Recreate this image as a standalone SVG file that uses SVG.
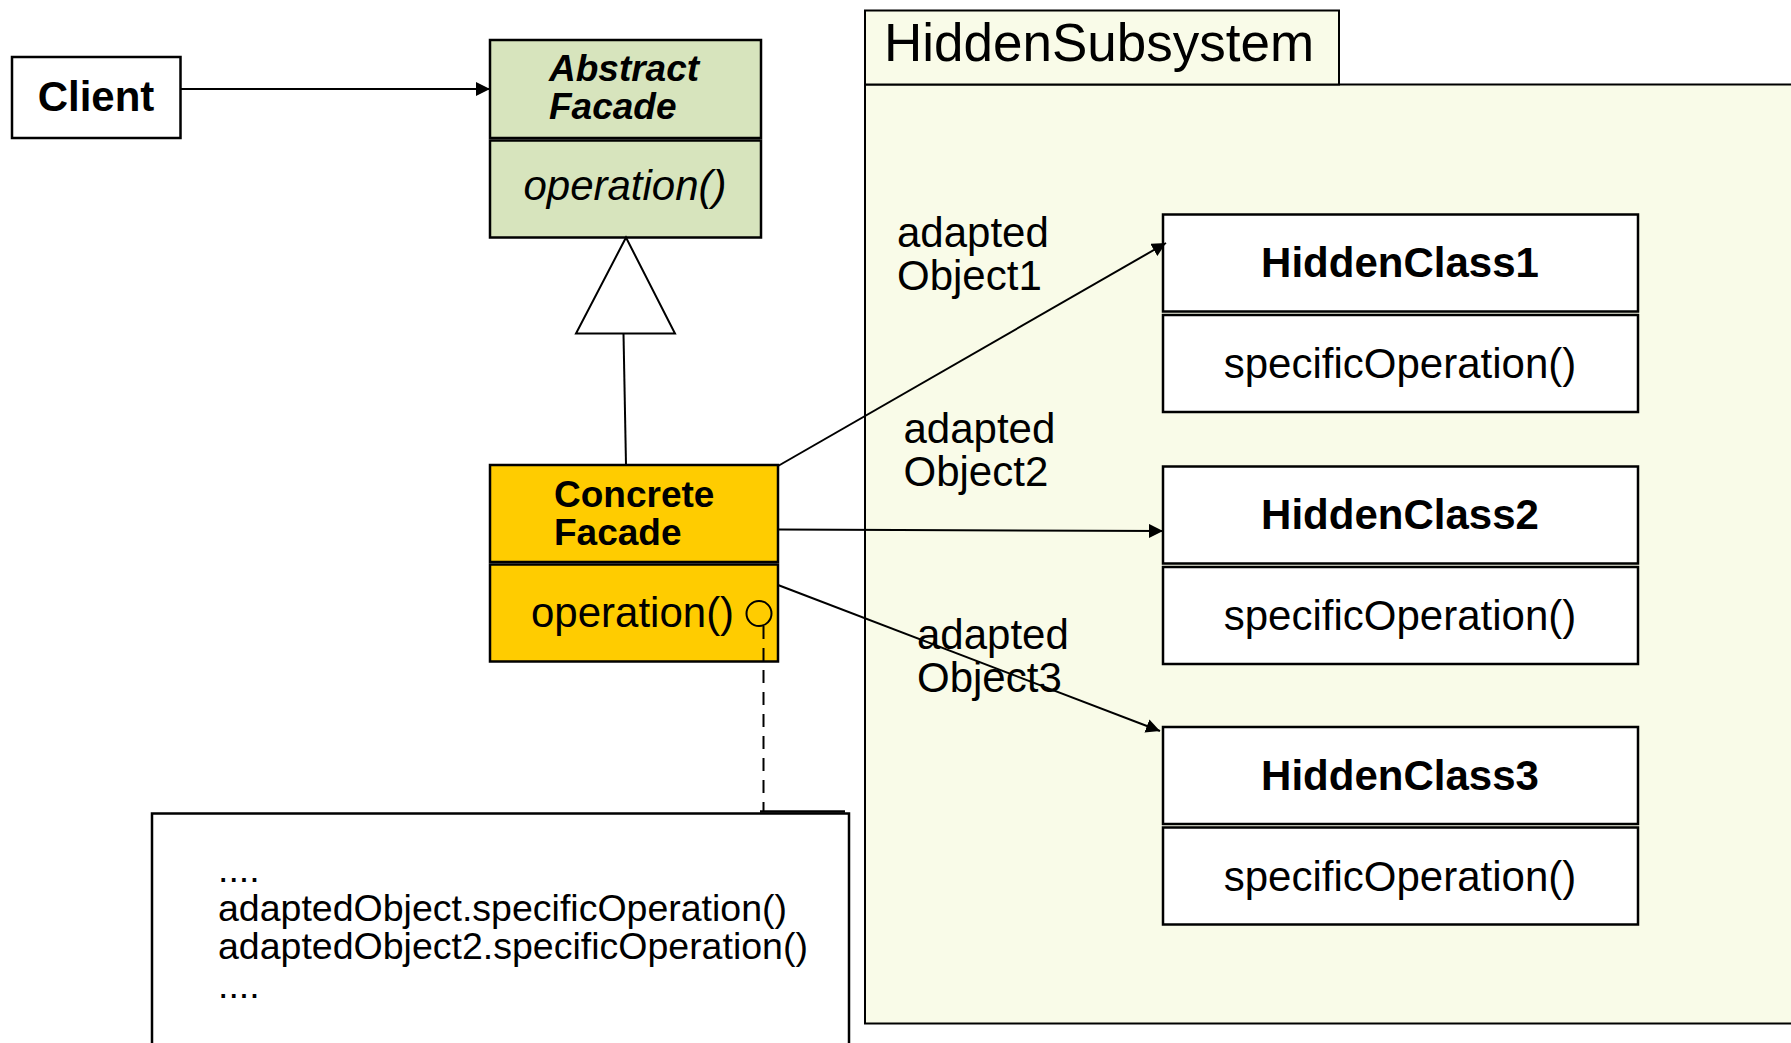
<svg xmlns="http://www.w3.org/2000/svg" width="1791" height="1043" viewBox="0 0 1791 1043">
<defs>
<style>
.box{stroke:#000;stroke-width:2.5}
.white{fill:#fff}
.green{fill:#d7e4bd}
.gold{fill:#ffcc00}
.pkg{fill:#f9fbe8;stroke:#000;stroke-width:2}
.t{font-family:"Liberation Sans",Arial,sans-serif;fill:#000}
.b{font-weight:bold}
.i{font-style:italic}
.c{text-anchor:middle}
.conn{stroke:#000;stroke-width:2;fill:none}
</style>
<marker id="arr" viewBox="0 0 14 14" refX="14" refY="7" markerWidth="14" markerHeight="14" markerUnits="userSpaceOnUse" orient="auto">
<path d="M0,0 L14,7 L0,14 z" fill="#000"/>
</marker>
</defs>
<rect width="1791" height="1043" fill="#fff"/>

<g id="HiddenSubsystem">
<rect class="pkg" x="865" y="84.5" width="940" height="939"/>
<rect class="pkg" x="865" y="10.5" width="474" height="74"/>
<text class="t" x="884" y="61" font-size="53">HiddenSubsystem</text>
</g>

<g id="Client">
<rect class="box white" x="12" y="57" width="168.5" height="81"/>
<text class="t b c" x="96" y="111" font-size="42">Client</text>
</g>

<g id="AbstractFacade">
<rect class="box green" x="490" y="40" width="271" height="98"/>
<rect class="box green" x="490" y="140.5" width="271" height="97"/>
<text class="t b i" x="549" y="81" font-size="37">Abstract</text>
<text class="t b i" x="549" y="119" font-size="37">Facade</text>
<text class="t i c" x="625" y="200" font-size="42">operation()</text>
</g>

<g id="ConcreteFacade">
<rect class="box gold" x="490" y="465" width="288" height="97"/>
<rect class="box gold" x="490" y="564.5" width="288" height="97"/>
<text class="t b" x="554" y="507" font-size="37">Concrete</text>
<text class="t b" x="554" y="545" font-size="37">Facade</text>
<text class="t" x="531" y="627" font-size="42">operation()</text>
<circle cx="759" cy="613.5" r="12.5" fill="none" stroke="#000" stroke-width="2"/>
</g>

<g id="HiddenClass1">
<rect class="box white" x="1163" y="214.5" width="475" height="97"/>
<rect class="box white" x="1163" y="315" width="475" height="97"/>
<text class="t b c" x="1400" y="277" font-size="42">HiddenClass1</text>
<text class="t c" x="1400" y="378" font-size="42">specificOperation()</text>
</g>

<g id="HiddenClass2">
<rect class="box white" x="1163" y="466.5" width="475" height="97"/>
<rect class="box white" x="1163" y="567" width="475" height="97"/>
<text class="t b c" x="1400" y="529" font-size="42">HiddenClass2</text>
<text class="t c" x="1400" y="630" font-size="42">specificOperation()</text>
</g>

<g id="HiddenClass3">
<rect class="box white" x="1163" y="727" width="475" height="97"/>
<rect class="box white" x="1163" y="827.5" width="475" height="97"/>
<text class="t b c" x="1400" y="789.5" font-size="42">HiddenClass3</text>
<text class="t c" x="1400" y="890.5" font-size="42">specificOperation()</text>
</g>

<g id="Note">
<rect class="box white" x="152" y="813.5" width="697" height="260"/>
<line x1="760" y1="811.5" x2="845" y2="811.5" stroke="#000" stroke-width="2.5"/>
<text class="t" font-size="37.5"><tspan x="218" y="882">....</tspan><tspan x="218" y="920.5">adaptedObject.specificOperation()</tspan><tspan x="218" y="959">adaptedObject2.specificOperation()</tspan><tspan x="218" y="997.5">....</tspan></text>
</g>

<g id="connectors">
<line class="conn" x1="180.5" y1="89" x2="490" y2="89" marker-end="url(#arr)"/>
<polygon points="626,237.5 675,333.5 576,333.5" fill="#fff" stroke="#000" stroke-width="2"/>
<line class="conn" x1="623.5" y1="333.5" x2="626" y2="465"/>
<line class="conn" x1="778" y1="466" x2="1166" y2="243" marker-end="url(#arr)"/>
<line class="conn" x1="778" y1="529.5" x2="1163" y2="531" marker-end="url(#arr)"/>
<line class="conn" x1="778" y1="585" x2="1160" y2="731" marker-end="url(#arr)"/>
<line class="conn" x1="763.5" y1="626" x2="763.5" y2="811" stroke-dasharray="13 9"/>
</g>

<g id="labels">
<text class="t" font-size="42"><tspan x="897" y="247">adapted</tspan><tspan x="897" y="290">Object1</tspan></text>
<text class="t" font-size="42"><tspan x="903.5" y="443">adapted</tspan><tspan x="903.5" y="486">Object2</tspan></text>
<text class="t" font-size="42"><tspan x="917" y="649">adapted</tspan><tspan x="917" y="692">Object3</tspan></text>
</g>
</svg>
